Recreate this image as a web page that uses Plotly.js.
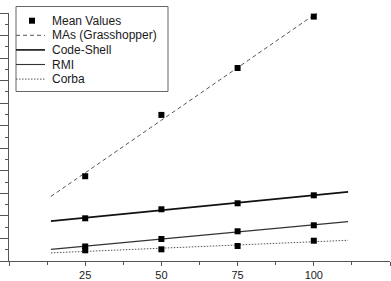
<!DOCTYPE html>
<html>
<head>
<meta charset="utf-8">
<script src="https://cdn.plot.ly/plotly-3.0.1.min.js"></script>
<style>
  html, body { margin: 0; padding: 0; background: #fff; }
  #chart { width: 391px; height: 281px; }
</style>
</head>
<body>
<div id="chart"></div>
<script>
// Measured mean values at each load level
const xVals = [25, 50, 75, 100];
const masMeans = [188, 324, 428, 542];
const codeShellMeans = [94.7, 114.7, 128.0, 145.7];
const rmiMeans = [32.2, 48.8, 65.9, 79.2];
const corbaMeans = [23.7, 25.9, 33.3, 45.0];

const seriesNames = ['MAs (Grasshopper)', 'Code-Shell', 'RMI', 'Corba'];
const legendLabels = ['Mean Values'].concat(seriesNames);
const xTickVals = [0, 25, 50, 75, 100, 125];
const xTickText = ['', '25', '50', '75', '100', ''];

// Least-squares linear fit, drawn across the data span plus 15% either side
function linearFit(xs, ys) {
  const n = xs.length;
  const mx = xs.reduce((a, b) => a + b, 0) / n;
  const my = ys.reduce((a, b) => a + b, 0) / n;
  let sxy = 0, sxx = 0;
  for (let i = 0; i < n; i++) {
    sxy += (xs[i] - mx) * (ys[i] - my);
    sxx += (xs[i] - mx) * (xs[i] - mx);
  }
  const slope = sxy / sxx;
  const icpt = my - slope * mx;
  const span = xs[n - 1] - xs[0];
  const x0 = xs[0] - 0.15 * span;
  const x1 = xs[n - 1] + 0.15 * span;
  return { x: [x0, x1], y: [icpt + slope * x0, icpt + slope * x1] };
}

const lineStyles = [
  { color: '#555555', width: 1, dash: '4px,3px' },
  { color: '#111111', width: 1.6, dash: 'solid' },
  { color: '#333333', width: 1.1, dash: 'solid' },
  { color: '#555555', width: 1, dash: '1.5px,1.5px' }
];

const allMeans = [masMeans, codeShellMeans, rmiMeans, corbaMeans];
const traces = allMeans.map((ys, i) => {
  const f = linearFit(xVals, ys);
  return {
    type: 'scatter', mode: 'lines', name: seriesNames[i],
    x: f.x, y: f.y, line: lineStyles[i], hoverinfo: 'skip'
  };
});

traces.push({
  type: 'scatter', mode: 'markers', name: legendLabels[0],
  x: [].concat(xVals, xVals, xVals, xVals),
  y: [].concat(masMeans, codeShellMeans, rmiMeans, corbaMeans),
  marker: { symbol: 'square', size: 6, color: '#000000', line: { width: 0 } }
});

// Pixel helpers for the boxed key in the upper-left corner
const W = 391, H = 281;
const M = { l: 9, r: 1, t: 13, b: 20 };
const PW = W - M.l - M.r, PH = H - M.t - M.b;
const px = v => (v - M.l) / PW;
const py = v => (H - M.b - v) / PH;

const shapes = [{
  type: 'rect', xref: 'paper', yref: 'paper',
  x0: px(16), x1: px(168), y0: py(91.5), y1: py(6.5),
  line: { color: '#666666', width: 1 }, fillcolor: '#ffffff', layer: 'above'
}];
const annotations = [];
const rowY = i => 20.7 + 14.6 * i;

legendLabels.forEach((label, i) => {
  const yc = rowY(i);
  if (i === 0) {
    shapes.push({
      type: 'rect', xref: 'paper', yref: 'paper',
      x0: px(29), x1: px(35), y0: py(yc + 3), y1: py(yc - 3),
      line: { width: 0 }, fillcolor: '#000000', layer: 'above'
    });
  } else {
    const st = lineStyles[i - 1];
    shapes.push({
      type: 'line', xref: 'paper', yref: 'paper',
      x0: px(16), x1: px(45), y0: py(yc), y1: py(yc),
      line: { color: st.color, width: st.width, dash: st.dash }, layer: 'above'
    });
  }
  annotations.push({
    xref: 'paper', yref: 'paper', x: px(49.5), y: py(yc),
    xanchor: 'left', yanchor: 'middle', showarrow: false,
    text: label, font: { family: 'Liberation Sans, Arial, sans-serif', size: 12, color: '#1a1a1a' }
  });
});

const layout = {
  width: W, height: H, margin: M,
  paper_bgcolor: '#ffffff', plot_bgcolor: '#ffffff',
  showlegend: false,
  font: { family: 'Liberation Sans, Arial, sans-serif', size: 11, color: '#222222' },
  xaxis: {
    range: [0, 125], tickmode: 'array', tickvals: xTickVals, ticktext: xTickText,
    ticks: 'outside', ticklen: 4, tickcolor: '#555555', tickwidth: 1,
    minor: { tickmode: 'linear', tick0: 0, dtick: 12.5, ticks: 'outside', ticklen: 3, tickcolor: '#555555' },
    showline: true, linecolor: '#555555', linewidth: 1,
    showgrid: false, zeroline: false, fixedrange: true
  },
  yaxis: {
    range: [0, 550], tickmode: 'linear', tick0: 0, dtick: 50,
    ticks: 'outside', ticklen: 8, tickcolor: '#555555', tickwidth: 1,
    minor: { tickmode: 'linear', tick0: 25, dtick: 50, ticks: 'outside', ticklen: 3, tickcolor: '#555555' },
    showticklabels: false,
    showline: true, linecolor: '#555555', linewidth: 1,
    showgrid: false, zeroline: false, fixedrange: true
  },
  shapes: shapes,
  annotations: annotations
};

Plotly.newPlot('chart', traces, layout, { staticPlot: true, displayModeBar: false });
</script>
</body>
</html>
